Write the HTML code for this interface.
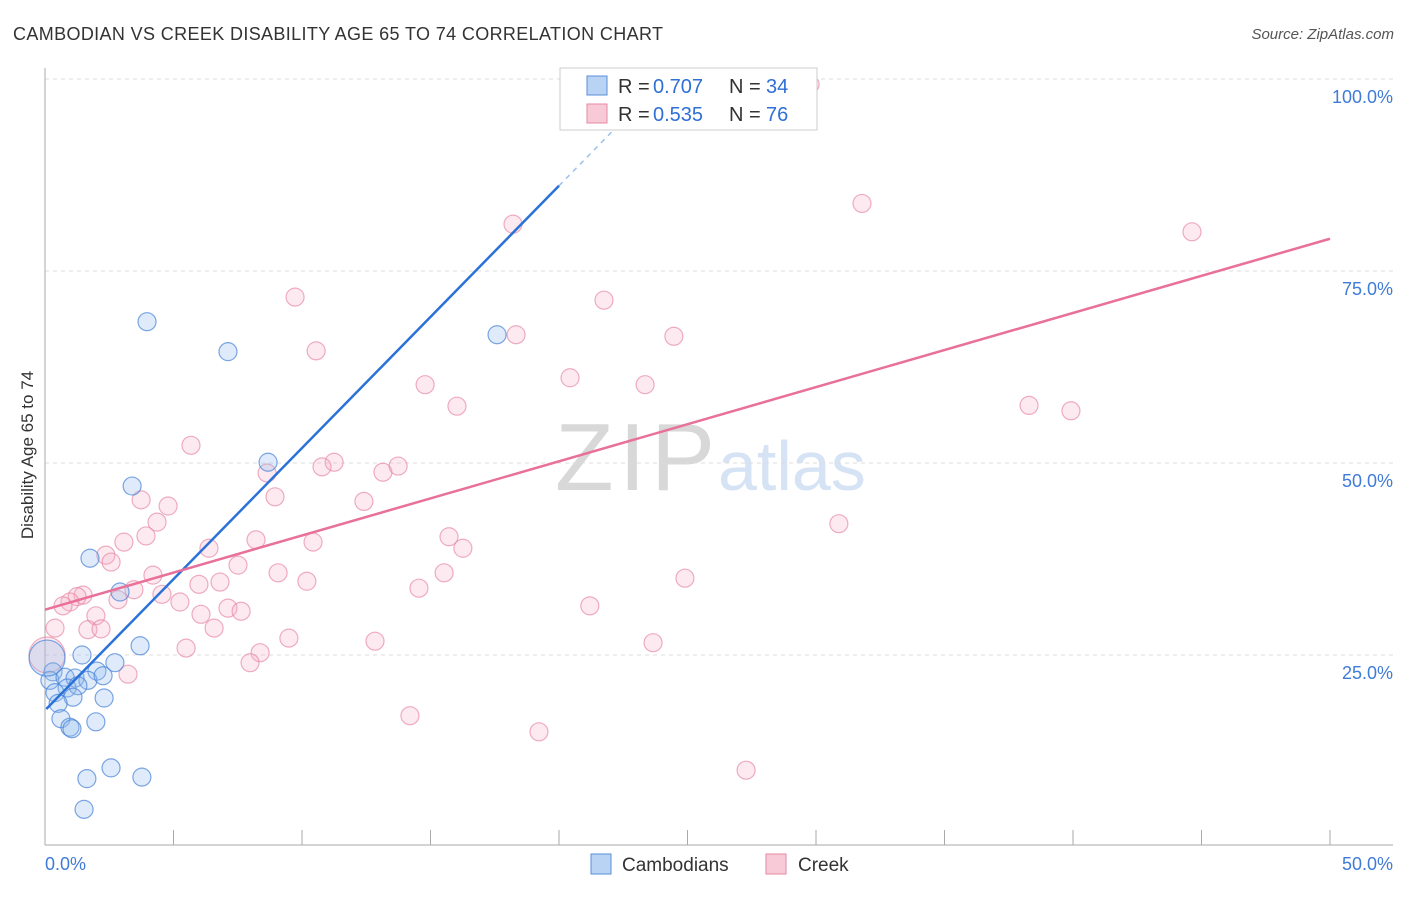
<!DOCTYPE html>
<html><head><meta charset="utf-8"><style>
body{margin:0;background:#fff;font-family:"Liberation Sans",sans-serif;}
svg text{font-family:"Liberation Sans",sans-serif;}
</style></head><body>
<svg id="c" width="1406" height="892">
<text x="13" y="40" font-size="18" fill="#333" textLength="650">CAMBODIAN VS CREEK DISABILITY AGE 65 TO 74 CORRELATION CHART</text>
<text x="1394" y="39" font-size="15" fill="#555" font-style="italic" text-anchor="end">Source: ZipAtlas.com</text>
<text x="33" y="455" font-size="17" fill="#333" text-anchor="middle" transform="rotate(-90 33 455)">Disability Age 65 to 74</text>
<text x="555" y="490" font-size="96" fill="#d8d8d8" textLength="160" font-family="Liberation Serif">ZIP</text>
<text x="718" y="490" font-size="70" fill="#d5e3f5">atlas</text>
<g id="grid"></g><g id="pts"></g><g id="lines"></g>
<g>
<rect x="560" y="68" width="257" height="62" fill="#fff" stroke="#ccc"/>
<rect x="587" y="76" width="20" height="19" fill="#b9d3f5" stroke="#5a8fd8"/>
<rect x="587" y="104" width="20" height="19" fill="#f8c9d6" stroke="#e58aa5"/>
<text x="618" y="93" font-size="20" fill="#333">R =</text><text x="653" y="93" font-size="20" fill="#2f6fd6">0.707</text>
<text x="729" y="93" font-size="20" fill="#333">N =</text><text x="766" y="93" font-size="20" fill="#2f6fd6">34</text>
<text x="618" y="121" font-size="20" fill="#333">R =</text><text x="653" y="121" font-size="20" fill="#2f6fd6">0.535</text>
<text x="729" y="121" font-size="20" fill="#333">N =</text><text x="766" y="121" font-size="20" fill="#2f6fd6">76</text>
</g>
<g>
<rect x="591" y="854" width="20" height="20" fill="#b9d3f5" stroke="#5a8fd8"/>
<text x="622" y="871" font-size="19" fill="#333">Cambodians</text>
<rect x="766" y="854" width="20" height="20" fill="#f8c9d6" stroke="#e58aa5"/>
<text x="798" y="871" font-size="19" fill="#333">Creek</text>
</g>
</svg>
<script>
const yTicks=[25,50,75,100];
const yTickLabels=["25.0%","50.0%","75.0%","100.0%"];
const xTicks=[0,5,10,15,20,25,30,35,40,45,50];
const camX=[3.97,7.12,17.59,8.68,3.39,1.75,2.92,3.70,1.44,2.72,2.02,0.31,0.19,0.78,1.17,1.67,2.26,0.86,1.28,0.39,1.09,2.30,0.51,0.62,1.98,0.97,1.05,1.63,2.57,3.77,1.52,0.08];
const camY=[68.4,64.5,66.7,50.1,47.0,37.6,33.2,26.2,25.0,24.0,22.9,22.8,21.7,22.1,22.0,21.7,22.3,20.7,21.0,20.1,19.5,19.4,18.7,16.7,16.3,15.6,15.4,8.9,10.3,9.1,4.9,24.6];
const creX=[18.21,31.79,44.63,9.73,21.75,10.55,18.33,24.47,14.79,20.43,23.35,16.03,38.29,39.92,5.68,11.25,10.78,8.64,13.15,13.74,3.74,4.79,8.95,12.41,4.36,30.89,3.93,3.07,8.21,10.43,15.72,16.26,6.38,2.37,2.57,7.51,4.20,9.07,15.53,24.90,10.19,5.99,6.81,14.55,3.46,4.55,1.48,1.25,0.97,0.70,2.84,5.25,21.20,7.12,7.63,6.07,1.98,0.39,1.67,2.18,6.58,9.49,12.84,23.66,5.49,8.37,7.98,3.23,14.20,19.22,27.28,22.92,29.77,0.08];
const creY=[81.1,83.8,80.1,71.6,71.2,64.6,66.7,66.5,60.2,61.1,60.2,57.4,57.5,56.8,52.3,50.1,49.5,48.7,48.8,49.6,45.2,44.4,45.6,45.0,42.3,42.1,40.5,39.7,40.0,39.7,40.4,38.9,38.9,38.0,37.1,36.7,35.4,35.7,35.7,35.0,34.6,34.2,34.5,33.7,33.5,32.9,32.8,32.6,31.9,31.4,32.2,31.9,31.4,31.1,30.7,30.3,30.1,28.5,28.3,28.4,28.5,27.2,26.8,26.6,25.9,25.3,24.0,22.5,17.1,15.0,10.0,99.9,99.3,25.0];
const camTrend=[17.8,86.1]; // y at x=0 and x=20
const creTrend=[30.9,79.2]; // y at x=0 and x=50
const NS="http://www.w3.org/2000/svg";
const X=v=>45+v*25.7, Y=v=>847-v*7.68;
function mk(t,a,p){const e=document.createElementNS(NS,t);for(const k in a)e.setAttribute(k,a[k]);p.appendChild(e);return e;}
const g=document.getElementById('grid');
yTicks.forEach((t,i)=>{
 const l=mk('line',{x1:45,x2:1393,y1:Y(t),y2:Y(t),stroke:'#ddd','stroke-dasharray':'4,4'},g);
 
 
 const tx=mk('text',{x:1393,y:Y(t)+24,'font-size':18,fill:'#3f7bd8','text-anchor':'end'},g);
 tx.textContent=yTickLabels[i];
 
 
});
mk('line',{x1:45,x2:45,y1:68,y2:845,stroke:'#aaa'},g);
mk('line',{x1:45,x2:1393,y1:845,y2:845,stroke:'#aaa'},g);
xTicks.forEach(t=>{const l=mk('line',{x1:X(t),x2:X(t),y1:830,y2:845,stroke:'#aaa'},g);
 
 });
let t0=mk('text',{x:45,y:870,'font-size':18,fill:'#3f7bd8'},g);t0.textContent='0.0%';


let t1=mk('text',{x:1393,y:870,'font-size':18,fill:'#3f7bd8','text-anchor':'end'},g);t1.textContent='50.0%';


const P=document.getElementById('pts');
creX.forEach((x,i)=>{const r=i==creX.length-1?18:9;const c=mk('circle',{cx:X(x),cy:Y(creY[i]),r:r,fill:'rgba(245,170,195,0.25)',stroke:'rgba(230,130,160,0.65)','stroke-width':1.2},P);
 
 });
camX.forEach((x,i)=>{const r=i==camX.length-1?18:9;const c=mk('circle',{cx:X(x),cy:Y(camY[i]),r:r,fill:'rgba(150,190,240,0.3)',stroke:'rgba(70,130,215,0.7)','stroke-width':1.2},P);
 
 });
const L=document.getElementById('lines');
const cs=(camTrend[1]-camTrend[0])/20;
let a=mk('line',{x1:X(0.05),y1:Y(camTrend[0]+cs*0.05),x2:X(20),y2:Y(camTrend[1]),stroke:'#2a72d8','stroke-width':2.5},L);


let b=mk('line',{x1:X(20),y1:Y(camTrend[1]),x2:X(23.1),y2:Y(camTrend[0]+cs*23.1),stroke:'#9cc0ec','stroke-width':1.5,'stroke-dasharray':'5,5'},L);


let c=mk('line',{x1:X(0),y1:Y(creTrend[0]),x2:X(50),y2:Y(creTrend[1]),stroke:'#e8709a','stroke-width':2.5},L);


</script>
</body></html>
